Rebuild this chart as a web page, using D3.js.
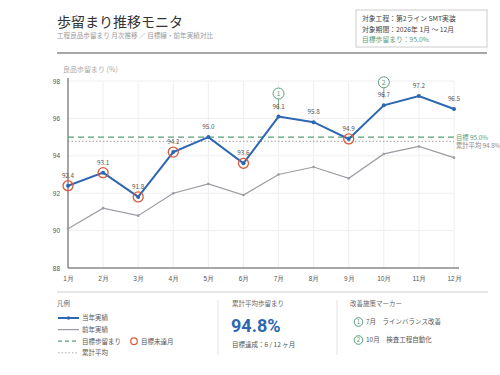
<!DOCTYPE html>
<html>
<head>
<meta charset="utf-8">
<script src="https://cdn.jsdelivr.net/npm/d3@7"></script>
<style>
  body { margin: 0; background: #fff; }
  svg { font-family: "Noto Sans CJK JP", "Noto Sans", sans-serif; }
</style>
</head>
<body>
<div id="chart"></div>
<script>
// data
const months = ["1月","2月","3月","4月","5月","6月","7月","8月","9月","10月","11月","12月"];
const current = [92.4, 93.1, 91.8, 94.2, 95.0, 93.6, 96.1, 95.8, 94.9, 96.7, 97.2, 96.5];
const previous = [90.1, 91.2, 90.8, 92.0, 92.5, 91.9, 93.0, 93.4, 92.8, 94.1, 94.5, 93.9];
const yTicks = [88, 90, 92, 94, 96, 98];
const target = 95.0;
const markers = [{ month: "7月", id: "1", text: "ラインバランス改善" },
                 { month: "10月", id: "2", text: "検査工程自動化" }];

const W = 500, H = 375;
const blue = "#2e67b1", grey = "#9a9da3", green = "#5a9e7c", red = "#d9593a";
const avg = d3.mean(current);
const achieved = current.filter(v => v >= target).length;

const svg = d3.select("#chart").append("svg")
  .attr("width", W).attr("height", H);

// header
svg.append("text").attr("x", 57).attr("y", 27)
  .attr("font-size", 14).attr("fill", "#333").text("歩留まり推移モニタ");
svg.append("text").attr("x", 57).attr("y", 38)
  .attr("font-size", 6.6).attr("fill", "#999").text("工程良品歩留まり 月次推移 ／ 目標線・前年実績対比");
svg.append("line").attr("x1", 57).attr("x2", 487).attr("y1", 53).attr("y2", 53)
  .attr("stroke", "#888").attr("stroke-width", 1.5);

// info box
svg.append("rect").attr("x", 356).attr("y", 10).attr("width", 131).attr("height", 37)
  .attr("fill", "#fff").attr("stroke", "#ccc");
const info = [["対象工程：第2ライン SMT実装", "#444"],
              ["対象期間：2026年 1月 〜 12月", "#444"],
              ["目標歩留まり：" + target.toFixed(1) + "%", green]];
info.forEach((d, i) => {
  svg.append("text").attr("x", 362).attr("y", 21 + i * 10.5)
    .attr("font-size", 6.8).attr("fill", d[1]).text(d[0]);
});

// plot area
const x = d3.scalePoint().domain(months).range([68, 454]);
const y = d3.scaleLinear().domain([88, 98]).range([268, 81]);

const g = svg.append("g");

// grid
g.selectAll(".hg").data(yTicks.slice(1)).enter().append("line")
  .attr("x1", 68).attr("x2", 454).attr("y1", d => y(d)).attr("y2", d => y(d))
  .attr("stroke", "#eee");
g.selectAll(".vg").data(months.slice(1)).enter().append("line")
  .attr("x1", d => x(d)).attr("x2", d => x(d)).attr("y1", y(98)).attr("y2", y(88))
  .attr("stroke", "#eee");

// axes
const yAxis = g.append("g").attr("transform", "translate(68,0)")
  .call(d3.axisLeft(y).tickValues(yTicks).tickSize(0).tickPadding(8));
yAxis.select(".domain").attr("stroke", "#888").attr("stroke-width", 1.5)
  .attr("d", `M0,${y(98) - 3}V${y(88)}`);
yAxis.selectAll("text").attr("font-size", 6.5).attr("fill", "#555");

const xAxis = g.append("g").attr("transform", `translate(0,${y(88)})`)
  .call(d3.axisBottom(x).tickSize(0).tickPadding(8));
xAxis.select(".domain").attr("stroke", "#888").attr("stroke-width", 1.5)
  .attr("d", `M68,0H459`);
xAxis.selectAll("text").attr("font-size", 6.5).attr("fill", "#555");

svg.append("text").attr("x", 63).attr("y", 72)
  .attr("font-size", 7).attr("fill", "#aaa").text("良品歩留まり (%)");

// target & average lines
g.append("line").attr("x1", 68).attr("x2", 454).attr("y1", y(target)).attr("y2", y(target))
  .attr("stroke", green).attr("stroke-width", 1.2).attr("stroke-dasharray", "6,4");
g.append("line").attr("x1", 68).attr("x2", 454).attr("y1", y(avg)).attr("y2", y(avg))
  .attr("stroke", "#888").attr("stroke-width", 0.8).attr("stroke-dasharray", "1.5,2");
svg.append("text").attr("x", 456).attr("y", y(target) + 2.5)
  .attr("font-size", 6.3).attr("fill", green).text("目標 " + target.toFixed(1) + "%");
svg.append("text").attr("x", 456).attr("y", y(avg) + 7)
  .attr("font-size", 6.3).attr("fill", "#888").text("累計平均 " + avg.toFixed(1) + "%");

const line = d3.line().x((d, i) => x(months[i])).y(d => y(d));

// previous year
g.append("path").datum(previous).attr("d", line)
  .attr("fill", "none").attr("stroke", grey).attr("stroke-width", 1.2);
g.selectAll(".pp").data(previous).enter().append("circle")
  .attr("cx", (d, i) => x(months[i])).attr("cy", d => y(d)).attr("r", 1.3).attr("fill", grey);

// current year
g.append("path").datum(current).attr("d", line)
  .attr("fill", "none").attr("stroke", blue).attr("stroke-width", 2);
g.selectAll(".miss").data(current.map((v, i) => ({ v, i })).filter(d => d.v < target))
  .enter().append("circle")
  .attr("cx", d => x(months[d.i])).attr("cy", d => y(d.v)).attr("r", 5)
  .attr("fill", "none").attr("stroke", red).attr("stroke-width", 1.3);
g.selectAll(".cp").data(current).enter().append("circle")
  .attr("cx", (d, i) => x(months[i])).attr("cy", d => y(d)).attr("r", 2).attr("fill", blue);

// improvement markers on chart (drawn before labels, line runs behind label)
markers.forEach(m => {
  const mx = x(m.month), my = y(current[months.indexOf(m.month)]) - 23;
  g.append("line").attr("x1", mx).attr("x2", mx).attr("y1", my + 5.5).attr("y2", my + 16)
    .attr("stroke", green).attr("stroke-width", 0.8);
  g.append("circle").attr("cx", mx).attr("cy", my).attr("r", 5.5)
    .attr("fill", "#fff").attr("stroke", green).attr("stroke-width", 1);
  g.append("text").attr("x", mx).attr("y", my + 2.5).attr("text-anchor", "middle")
    .attr("font-size", 7).attr("fill", green).text(m.id);
});

g.selectAll(".lbl").data(current).enter().append("text")
  .attr("x", (d, i) => x(months[i])).attr("y", d => y(d) - 8)
  .attr("text-anchor", "middle").attr("font-size", 6.3).attr("fill", "#555")
  .text(d => d.toFixed(1));

// footer
svg.append("line").attr("x1", 57).attr("x2", 488).attr("y1", 292).attr("y2", 292)
  .attr("stroke", "#ccc");
[218, 337].forEach(xx => svg.append("line").attr("x1", xx).attr("x2", xx)
  .attr("y1", 300).attr("y2", 355).attr("stroke", "#e2e2e2"));

svg.append("text").attr("x", 57).attr("y", 306).attr("font-size", 6.5).attr("fill", "#666").text("凡例");
const leg = [
  { t: "当年実績", stroke: blue, w: 2, dash: null, dot: true },
  { t: "前年実績", stroke: grey, w: 1.2, dash: null },
  { t: "目標歩留まり", stroke: green, w: 1.2, dash: "4,3" },
  { t: "累計平均", stroke: "#999", w: 0.8, dash: "1.5,2" }
];
leg.forEach((d, i) => {
  const ly = 318 + i * 11.6;
  const l = svg.append("line").attr("x1", 58).attr("x2", 79).attr("y1", ly).attr("y2", ly)
    .attr("stroke", d.stroke).attr("stroke-width", d.w);
  if (d.dash) l.attr("stroke-dasharray", d.dash);
  if (d.dot) svg.append("circle").attr("cx", 68.5).attr("cy", ly).attr("r", 1.8).attr("fill", blue);
  svg.append("text").attr("x", 82).attr("y", ly + 2.3).attr("font-size", 6.5).attr("fill", "#555").text(d.t);
});
svg.append("circle").attr("cx", 134).attr("cy", 341.2).attr("r", 3.3)
  .attr("fill", "none").attr("stroke", red).attr("stroke-width", 1.2);
svg.append("text").attr("x", 141).attr("y", 343.5).attr("font-size", 6.5).attr("fill", "#555").text("目標未達月");

svg.append("text").attr("x", 232).attr("y", 306).attr("font-size", 6.5).attr("fill", "#666").text("累計平均歩留まり");
svg.append("text").attr("x", 231).attr("y", 332).attr("font-size", 18).attr("font-weight", "bold")
  .attr("font-family", "Roboto, sans-serif").attr("fill", blue).text(avg.toFixed(1) + "%");
svg.append("text").attr("x", 232).attr("y", 347).attr("font-size", 6.5).attr("fill", "#555")
  .text("目標達成：" + achieved + " / " + months.length + " ヶ月");

svg.append("text").attr("x", 350).attr("y", 306).attr("font-size", 6.5).attr("fill", "#666").text("改善施策マーカー");
markers.forEach((m, i) => {
  const my = 322 + i * 18;
  svg.append("circle").attr("cx", 358.5).attr("cy", my).attr("r", 4.3)
    .attr("fill", "#fff").attr("stroke", green).attr("stroke-width", 1);
  svg.append("text").attr("x", 358.5).attr("y", my + 2.2).attr("text-anchor", "middle")
    .attr("font-size", 6).attr("fill", green).text(m.id);
  svg.append("text").attr("x", 366).attr("y", my + 2.3).attr("font-size", 6.5).attr("fill", "#555")
    .text(m.month + "　" + m.text);
});
</script>
</body>
</html>
